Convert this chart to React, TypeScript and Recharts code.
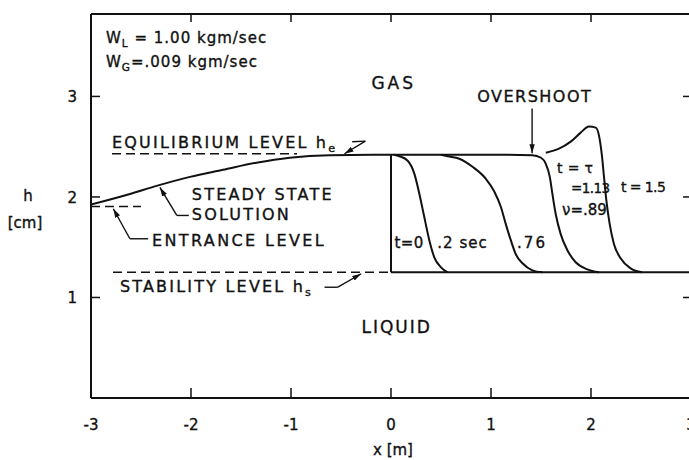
import React from "react";
import {
  LineChart,
  Line,
  XAxis,
  YAxis,
  ReferenceLine,
  ReferenceDot,
  Label,
} from "recharts";

// ---------- data ----------
const xTicks = [-3, -2, -1, 0, 1, 2, 3];
const xInnerTicks = [-2, -1, 0, 1, 2];
const yTicks = [1, 2, 3];

const steadyState = [
  { x: -3, h: 1.925 },
  { x: -2.61, h: 2.03 },
  { x: -2.345, h: 2.11 },
  { x: -2.01, h: 2.2 },
  { x: -1.68, h: 2.27 },
  { x: -1.346, h: 2.34 },
  { x: -1.013, h: 2.39 },
  { x: -0.614, h: 2.415 },
  { x: 0, h: 2.42 },
];

const t0 = [
  { x: 0, h: 2.42 },
  { x: 0, h: 1.25 },
];

const t02 = [
  { x: 0.03, h: 2.42 },
  { x: 0.084, h: 2.405 },
  { x: 0.167, h: 2.36 },
  { x: 0.234, h: 2.23 },
  { x: 0.284, h: 2.03 },
  { x: 0.333, h: 1.8 },
  { x: 0.383, h: 1.57 },
  { x: 0.433, h: 1.4 },
  { x: 0.5, h: 1.3 },
  { x: 0.566, h: 1.25 },
];

const t076 = [
  { x: 0.5, h: 2.42 },
  { x: 0.566, h: 2.405 },
  { x: 0.683, h: 2.38 },
  { x: 0.815, h: 2.3 },
  { x: 0.949, h: 2.18 },
  { x: 1.03, h: 2.06 },
  { x: 1.099, h: 1.9 },
  { x: 1.148, h: 1.73 },
  { x: 1.198, h: 1.57 },
  { x: 1.248, h: 1.43 },
  { x: 1.315, h: 1.34 },
  { x: 1.414, h: 1.27 },
  { x: 1.514, h: 1.25 },
];

const t113 = [
  { x: 0, h: 2.42 },
  { x: 1.0, h: 2.42 },
  { x: 1.414, h: 2.415 },
  { x: 1.5, h: 2.39 },
  { x: 1.548, h: 2.33 },
  { x: 1.588, h: 2.2 },
  { x: 1.614, h: 2.03 },
  { x: 1.647, h: 1.83 },
  { x: 1.697, h: 1.63 },
  { x: 1.764, h: 1.47 },
  { x: 1.847, h: 1.35 },
  { x: 1.963, h: 1.28 },
  { x: 2.08, h: 1.25 },
];

const t15 = [
  { x: 1.548, h: 2.44 },
  { x: 1.68, h: 2.48 },
  { x: 1.797, h: 2.55 },
  { x: 1.897, h: 2.64 },
  { x: 1.98, h: 2.7 },
  { x: 2.047, h: 2.69 },
  { x: 2.08, h: 2.61 },
  { x: 2.107, h: 2.43 },
  { x: 2.13, h: 2.2 },
  { x: 2.153, h: 1.97 },
  { x: 2.187, h: 1.73 },
  { x: 2.23, h: 1.53 },
  { x: 2.296, h: 1.39 },
  { x: 2.396, h: 1.29 },
  { x: 2.51, h: 1.25 },
];

const stabilitySolid = [
  { x: 0, h: 1.25 },
  { x: 3, h: 1.25 },
];
const stabilityDashed = [
  { x: -2.78, h: 1.25 },
  { x: 0, h: 1.25 },
];
const equilibriumDashed = [
  { x: -2.79, h: 2.43 },
  { x: -0.94, h: 2.43 },
];
const entranceDashed = [
  { x: -3, h: 1.905 },
  { x: -2.5, h: 1.905 },
];

// annotation texts and their anchor (data coords, left edge / baseline)
const annotations = [
  { x: -2.85, h: 3.527, main: "W", sub: "L", rest: " = 1.00 kgm/sec", size: 15, ls: 1 },
  { x: -2.85, h: 3.289, main: "W", sub: "G", rest: "=.009 kgm/sec", size: 15, ls: 1 },
  { x: -0.196, h: 3.07, main: "GAS", size: 17, ls: 3 },
  { x: 0.862, h: 2.94, main: "OVERSHOOT", size: 16, ls: 1.5 },
  { x: -2.79, h: 2.483, main: "EQUILIBRIUM LEVEL h", sub: "e", size: 16, ls: 2.2 },
  { x: -1.992, h: 1.965, main: "STEADY STATE", size: 16, ls: 2.2 },
  { x: -1.992, h: 1.766, main: "SOLUTION", size: 16, ls: 2.2 },
  { x: -2.391, h: 1.517, main: "ENTRANCE LEVEL", size: 16, ls: 2.4 },
  { x: -2.711, h: 1.05, main: "STABILITY LEVEL h", sub: "s", size: 16, ls: 2.2 },
  { x: -0.295, h: 0.642, main: "LIQUID", size: 17, ls: 2 },
  { x: 0.034, h: 1.488, main: "t=0", size: 15, ls: 0.5 },
  { x: 0.463, h: 1.488, main: ".2 sec", size: 15, ls: 1 },
  { x: 1.261, h: 1.488, main: ".76", size: 15, ls: 2 },
  { x: 1.661, h: 2.234, main: "t = \u03c4", size: 14, ls: 0.3 },
  { x: 1.8, h: 2.035, main: "=1.13", size: 13.5, ls: -0.6 },
  { x: 1.71, h: 1.816, main: "\u03bd=.89", size: 15, ls: 0 },
  { x: 2.3, h: 2.045, main: "t = 1.5", size: 14, ls: -0.6 },
];

// leader lines (data coords); arrow at the end point when arrow = true
const leaders = [
  { a: [-0.388, 2.549], b: [-0.256, 2.555], arrow: false },
  { a: [-0.256, 2.555], b: [-0.465, 2.43], arrow: true },
  { a: [-2.022, 1.816], b: [-2.142, 1.816], arrow: false },
  { a: [-2.142, 1.816], b: [-2.311, 2.095], arrow: true },
  { a: [-2.428, 1.584], b: [-2.611, 1.584], arrow: false },
  { a: [-2.611, 1.584], b: [-2.777, 1.883], arrow: true },
  { a: [-0.665, 1.102], b: [-0.532, 1.102], arrow: false },
  { a: [-0.532, 1.102], b: [-0.298, 1.236], arrow: true },
  { a: [1.411, 2.88], b: [1.411, 2.435], arrow: true },
];

const FONT = "'DejaVu Sans', 'Liberation Sans', sans-serif";
const INK = "#111";
const TXT = { fontFamily: FONT, fill: INK, stroke: INK, strokeWidth: 0.35 };

const BottomTick = (props: any) => {
  const { x, y, payload } = props;
  const v = payload.value;
  return (
    <g>
      {Math.abs(v) !== 3 && (
        <line x1={x} x2={x} y1={y} y2={y - 10} stroke={INK} strokeWidth={1.5} />
      )}
      <text x={x} y={y + 32} textAnchor="middle" fontSize={15} {...TXT}>
        {String(v)}
      </text>
    </g>
  );
};

const TopTick = (props: any) => {
  const { x, y } = props;
  return <line x1={x} x2={x} y1={y} y2={y + 8} stroke={INK} strokeWidth={1.5} />;
};

const LeftTick = (props: any) => {
  const { x, y, payload } = props;
  return (
    <g>
      <line x1={x} x2={x + 9} y1={y} y2={y} stroke={INK} strokeWidth={1.5} />
      <text x={x - 14} y={y + 6} textAnchor="end" fontSize={15} {...TXT}>
        {String(payload.value)}
      </text>
    </g>
  );
};

const RightTick = (props: any) => {
  const { x, y } = props;
  return <line x1={x - 8} x2={x} y1={y} y2={y} stroke={INK} strokeWidth={1.5} />;
};

const makeText = (a: any) => (p: any) => (
  <text x={p.cx} y={p.cy} fontSize={a.size} letterSpacing={a.ls} {...TXT}>
    <tspan>{a.main}</tspan>
    {a.sub && (
      <tspan dy={4} fontSize={a.size * 0.7}>
        {a.sub}
      </tspan>
    )}
    {a.rest && <tspan dy={-4}>{a.rest}</tspan>}
  </text>
);

const curve = (data: any[], key: string, type: any = "monotone", dash?: string, w = 2) => (
  <Line
    key={key}
    data={data}
    dataKey="h"
    type={type}
    stroke={INK}
    strokeWidth={w}
    strokeDasharray={dash}
    dot={false}
    activeDot={false}
    isAnimationActive={false}
  />
);

export default function App() {
  return (
    <div
      style={{
        position: "absolute",
        left: 0,
        top: 0,
        width: 689,
        height: 460,
        overflow: "hidden",
        background: "#fff",
      }}
    >
      <svg width={0} height={0} style={{ position: "absolute" }}>
        <defs>
          <marker
            id="arrowHead"
            viewBox="0 0 10 10"
            refX="10"
            refY="5"
            markerWidth="9"
            markerHeight="9"
            markerUnits="userSpaceOnUse"
            orient="auto"
          >
            <path d="M0,2 L10,5 L0,8 z" fill={INK} />
          </marker>
        </defs>
      </svg>
      <LineChart
        width={700}
        height={460}
        margin={{ top: 13, right: 8, bottom: 0, left: 0 }}
      >
        <XAxis
          dataKey="x"
          type="number"
          domain={[-3, 3]}
          ticks={xTicks}
          interval={0}
          allowDataOverflow
          height={62}
          tickSize={0}
          tickMargin={0}
          tickLine={false}
          axisLine={{ stroke: INK, strokeWidth: 2 }}
          tick={<BottomTick />}
        >
          <Label
            content={() => (
              <text x={393} y={455} textAnchor="middle" fontSize={15} {...TXT}>
                x [m]
              </text>
            )}
          />
        </XAxis>
        <XAxis
          xAxisId="top"
          orientation="top"
          dataKey="x"
          type="number"
          domain={[-3, 3]}
          ticks={xInnerTicks}
          interval={0}
          allowDataOverflow
          height={1}
          tickSize={0}
          tickMargin={0}
          tickLine={false}
          axisLine={{ stroke: INK, strokeWidth: 2 }}
          tick={<TopTick />}
        />
        <YAxis
          type="number"
          domain={[0, 3.82]}
          ticks={yTicks}
          interval={0}
          allowDataOverflow
          width={91}
          tickSize={0}
          tickMargin={0}
          tickLine={false}
          axisLine={{ stroke: INK, strokeWidth: 2 }}
          tick={<LeftTick />}
        >
          <Label
            content={() => (
              <g>
                <text x={28} y={201} textAnchor="middle" fontSize={15} {...TXT}>
                  h
                </text>
                <text x={25} y={228} textAnchor="middle" fontSize={15} {...TXT}>
                  [cm]
                </text>
              </g>
            )}
          />
        </YAxis>
        <YAxis
          yAxisId="right"
          orientation="right"
          type="number"
          domain={[0, 3.82]}
          ticks={yTicks}
          interval={0}
          allowDataOverflow
          width={1}
          tickSize={0}
          tickMargin={0}
          tickLine={false}
          axisLine={{ stroke: INK, strokeWidth: 2 }}
          tick={<RightTick />}
        />

        {curve(equilibriumDashed, "eq", "linear", "9 5", 1.5)}
        {curve(stabilityDashed, "stabD", "linear", "9 5", 1.5)}
        {curve(entranceDashed, "ent", "linear", "9 5", 1.5)}
        {curve(stabilitySolid, "stabS", "linear")}
        {curve(steadyState, "steady")}
        {curve(t0, "t0", "linear")}
        {curve(t02, "t02")}
        {curve(t076, "t076")}
        {curve(t113, "t113")}
        {curve(t15, "t15")}

        {leaders.map((l, i) => (
          <ReferenceLine
            key={"ld" + i}
            segment={[
              { x: l.a[0], y: l.a[1] },
              { x: l.b[0], y: l.b[1] },
            ]}
            stroke={INK}
            strokeWidth={1.4}
            markerEnd={l.arrow ? "url(#arrowHead)" : undefined}
          />
        ))}

        {annotations.map((a, i) => (
          <ReferenceDot key={"an" + i} x={a.x} y={a.h} r={0} shape={makeText(a)} />
        ))}
      </LineChart>
    </div>
  );
}
